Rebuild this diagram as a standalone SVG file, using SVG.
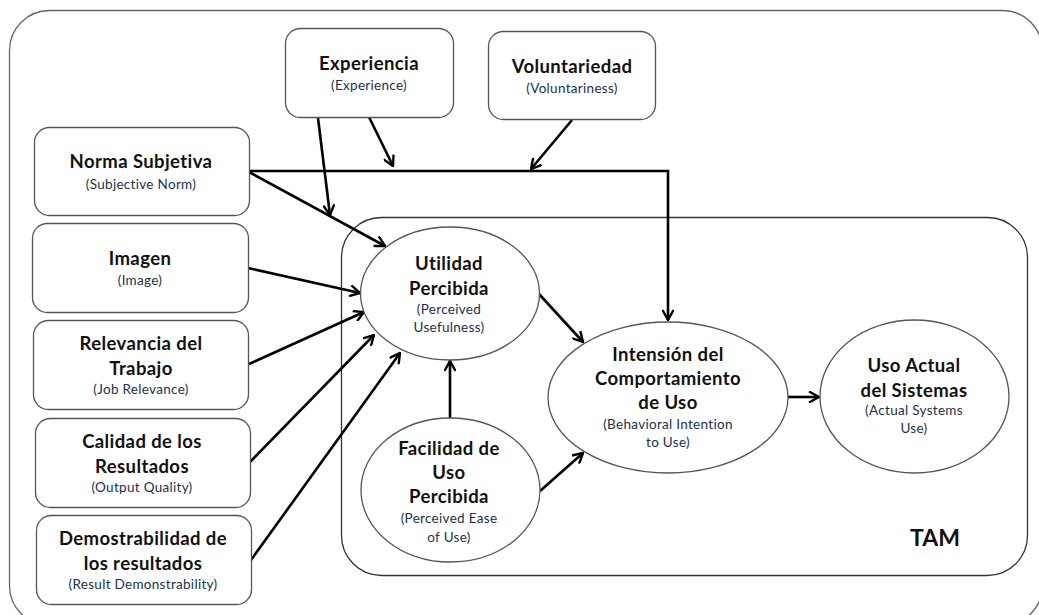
<svg xmlns="http://www.w3.org/2000/svg" width="1039" height="615" viewBox="0 0 1039 615">
<style>
.box{fill:#fff;stroke:#555;stroke-width:1.3}
.ell{fill:#fff;stroke:#555;stroke-width:1.3}
.t{font-family:Lato,"Liberation Sans",sans-serif;font-weight:bold;font-size:18.5px;letter-spacing:0.4px;fill:#111;text-anchor:middle}
.s{font-family:Lato,"Liberation Sans",sans-serif;font-size:13.5px;letter-spacing:0.3px;fill:#22304a;text-anchor:middle}
.c{fill:none;stroke:#000;stroke-width:2.6}
</style>
<defs>
<marker id="ah" viewBox="0 0 12 12" refX="11" refY="6" markerWidth="12" markerHeight="12" markerUnits="userSpaceOnUse" orient="auto">
<path d="M1,0.5 L11,6 L1,11.5" fill="none" stroke="#000" stroke-width="2.4"/>
</marker>
</defs>
<rect x="0" y="0" width="1039" height="615" fill="#fff"/>
<rect id="outer" x="9.5" y="10.5" width="1033" height="615" rx="40" fill="#fff" stroke="#666" stroke-width="1.3"/>
<rect id="tam-frame" x="341.5" y="217.5" width="686" height="358" rx="40" fill="#fff" stroke="#333" stroke-width="1.3"/>
<text x="935" y="546" font-family="Lato,'Liberation Sans',sans-serif" font-weight="bold" font-size="23" fill="#111" text-anchor="middle">TAM</text>

<g id="connectors">
<path class="c" d="M249,171 H668 V320" marker-end="url(#ah)"/>
<line class="c" x1="318" y1="118" x2="330" y2="215" marker-end="url(#ah)"/>
<line class="c" x1="369" y1="117" x2="393" y2="166" marker-end="url(#ah)"/>
<line class="c" x1="572" y1="120" x2="531" y2="169" marker-end="url(#ah)"/>
<line class="c" x1="249" y1="172" x2="385" y2="246" marker-end="url(#ah)"/>
<line class="c" x1="248" y1="268" x2="360" y2="293" marker-end="url(#ah)"/>
<line class="c" x1="249" y1="364" x2="364" y2="312" marker-end="url(#ah)"/>
<line class="c" x1="250" y1="462" x2="374" y2="335" marker-end="url(#ah)"/>
<line class="c" x1="251" y1="560" x2="400" y2="353" marker-end="url(#ah)"/>
<line class="c" x1="450" y1="419" x2="450" y2="361" marker-end="url(#ah)"/>
<line class="c" x1="539" y1="294" x2="583" y2="342" marker-end="url(#ah)"/>
<line class="c" x1="540" y1="491" x2="583" y2="453" marker-end="url(#ah)"/>
<line class="c" x1="788" y1="397" x2="819" y2="397" marker-end="url(#ah)"/>
</g>

<g id="experiencia">
<rect class="box" x="285.5" y="28.5" width="168" height="89" rx="15"/>
<text class="t" x="369" y="70">Experiencia</text>
<text class="s" x="369" y="90">(Experience)</text>
</g>
<g id="voluntariedad">
<rect class="box" x="488.5" y="31.5" width="167" height="88" rx="15"/>
<text class="t" x="572" y="73">Voluntariedad</text>
<text class="s" x="572" y="93">(Voluntariness)</text>
</g>
<g id="norma">
<rect class="box" x="34.5" y="127.5" width="215" height="88" rx="15"/>
<text class="t" x="141" y="168">Norma Subjetiva</text>
<text class="s" x="141" y="189">(Subjective Norm)</text>
</g>
<g id="imagen">
<rect class="box" x="32.5" y="223.5" width="216" height="89" rx="15"/>
<text class="t" x="140" y="265">Imagen</text>
<text class="s" x="140" y="285">(Image)</text>
</g>
<g id="relevancia">
<rect class="box" x="33.5" y="320.5" width="215" height="89" rx="15"/>
<text class="t" x="141" y="350">Relevancia del</text>
<text class="t" x="141" y="375">Trabajo</text>
<text class="s" x="141" y="394">(Job Relevance)</text>
</g>
<g id="calidad">
<rect class="box" x="35.5" y="418.5" width="215" height="89" rx="15"/>
<text class="t" x="142" y="448">Calidad de los</text>
<text class="t" x="142" y="473">Resultados</text>
<text class="s" x="142" y="492">(Output Quality)</text>
</g>
<g id="demostrabilidad">
<rect class="box" x="36.5" y="515.5" width="215" height="89" rx="15"/>
<text class="t" x="143" y="545">Demostrabilidad de</text>
<text class="t" x="143" y="570">los resultados</text>
<text class="s" x="143" y="589">(Result Demonstrability)</text>
</g>
<g id="utilidad">
<ellipse class="ell" cx="450" cy="293.5" rx="89.5" ry="66.5"/>
<text class="t" x="449" y="270">Utilidad</text>
<text class="t" x="449" y="295">Percibida</text>
<text class="s" x="449" y="314">(Perceived</text>
<text class="s" x="449" y="332">Usefulness)</text>
</g>
<g id="facilidad">
<ellipse class="ell" cx="450.5" cy="490" rx="89.5" ry="72"/>
<text class="t" x="449" y="455">Facilidad de</text>
<text class="t" x="449" y="479">Uso</text>
<text class="t" x="449" y="503">Percibida</text>
<text class="s" x="449" y="523">(Perceived Ease</text>
<text class="s" x="449" y="542">of Use)</text>
</g>
<g id="intension">
<ellipse class="ell" cx="668" cy="397.5" rx="120" ry="75.5"/>
<text class="t" x="668" y="361">Intensión del</text>
<text class="t" x="668" y="385">Comportamiento</text>
<text class="t" x="668" y="409">de Uso</text>
<text class="s" x="668" y="429">(Behavioral Intention</text>
<text class="s" x="668" y="447">to Use)</text>
</g>
<g id="uso-actual">
<ellipse class="ell" cx="914.5" cy="396.5" rx="94.5" ry="76.5"/>
<text class="t" x="914" y="372">Uso Actual</text>
<text class="t" x="914" y="397">del Sistemas</text>
<text class="s" x="914" y="415">(Actual Systems</text>
<text class="s" x="914" y="433">Use)</text>
</g>
</svg>
